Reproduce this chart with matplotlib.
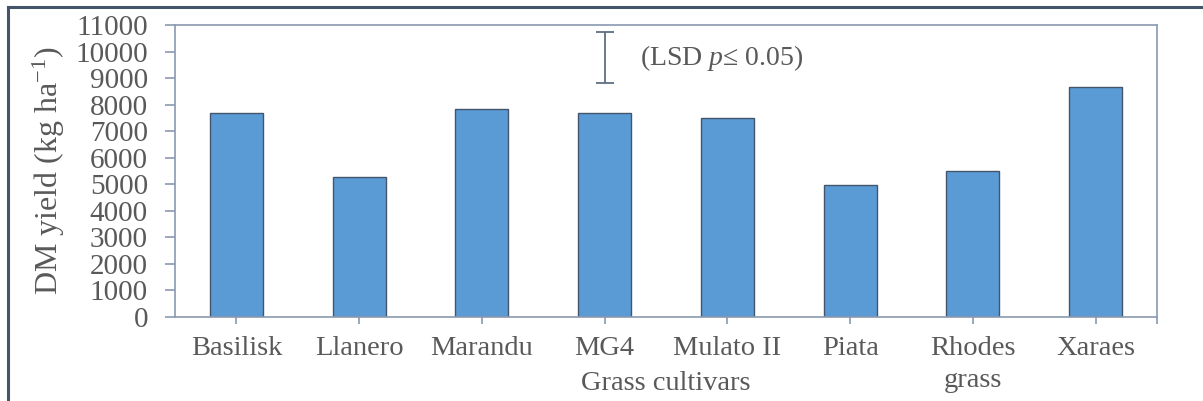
import numpy as np
from matplotlib import pyplot as plt
from matplotlib.lines import Line2D

plt.rcParams['font.family'] = ['Liberation Serif', 'DejaVu Serif']
plt.rcParams['mathtext.fontset'] = 'custom'
plt.rcParams['mathtext.rm'] = 'Liberation Serif'
plt.rcParams['mathtext.it'] = 'Liberation Serif:italic'

cultivars = ['Basilisk', 'Llanero', 'Marandu', 'MG4', 'Mulato II', 'Piata', 'Rhodes\ngrass', 'Xaraes']
dm_yield = [7690, 5280, 7830, 7690, 7480, 4970, 5500, 8670]
lsd_center = 9770
lsd = 1930
yticks = np.arange(0, 11001, 1000)

txt = '#595959'
axc = '#8A9AB0'

fig = plt.figure(figsize=(12.03, 4.01), dpi=100)
ax = fig.add_axes([175/1203, 1-317/401, (1157-175)/1203, (317-25)/401])

x = np.arange(len(cultivars))
ax.bar(x, dm_yield, width=0.43, color='#5B9BD5', edgecolor='#44546A', linewidth=1.0, zorder=2)

# LSD bar
ax.errorbar(3, lsd_center, yerr=lsd/2, fmt='none', ecolor='#5F6E84', elinewidth=1.3,
            capsize=6.5, capthick=1.3)
ax.text(3.29, lsd_center, '(LSD $p$\u2264 0.05)', fontsize=20, color=txt, va='center', ha='left')

ax.set_xlim(-0.5, 7.5)
ax.set_ylim(0, 11000)
ax.set_yticks(yticks)
ax.set_yticklabels([str(v) for v in yticks])
ax.set_xticks(x)
ax.set_xticklabels(cultivars, linespacing=1.35)
ax.set_xticks([7.5], minor=True)

for s in ax.spines.values():
    s.set_color(axc)
    s.set_linewidth(1.2)

ax.tick_params(axis='y', direction='out', length=7.5, width=1.2, color=axc,
               labelsize=21, labelcolor=txt, pad=12)
ax.tick_params(axis='x', which='both', direction='out', length=5, width=1.2, color=axc,
               labelsize=20.5, labelcolor=txt, pad=9)

ax.set_ylabel('DM yield (kg ha$^{-1}$)', fontsize=23, color=txt, labelpad=6)
ax.set_xlabel('Grass cultivars', fontsize=20.5, color=txt, labelpad=-16)

# outer frame (left and top edge visible)
fig.add_artist(Line2D([8/1203, 8/1203], [0, 1-7/401], transform=fig.transFigure,
                      color='#44546A', linewidth=2.2))
fig.add_artist(Line2D([8/1203, 1], [1-7/401, 1-7/401], transform=fig.transFigure,
                      color='#44546A', linewidth=2.2))

fig.savefig('out.png', dpi=100)
